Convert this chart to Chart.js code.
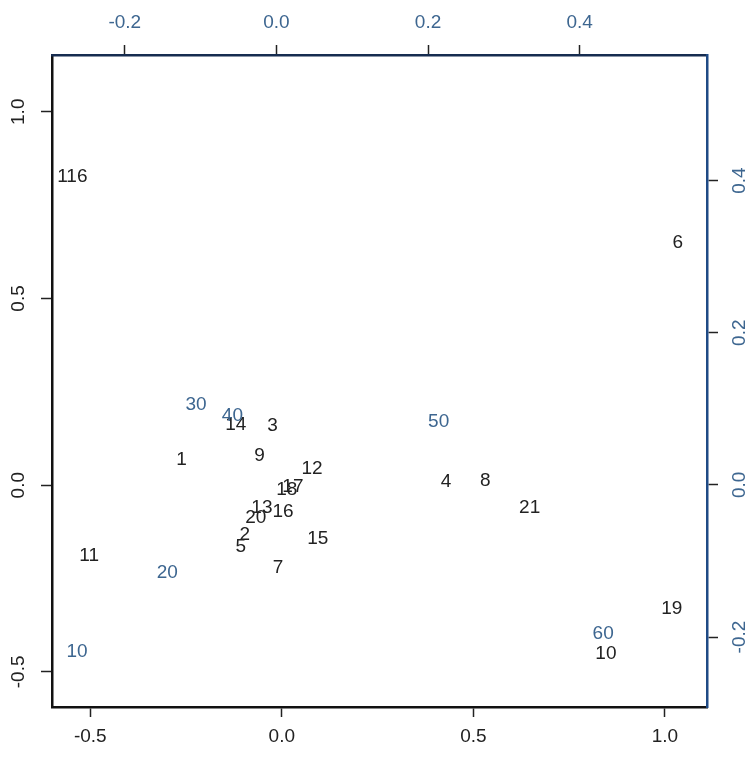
<!DOCTYPE html>
<html>
<head>
<meta charset="utf-8">
<script src="https://cdn.jsdelivr.net/npm/chart.js@4/dist/chart.umd.min.js"></script>
<style>
html, body { margin: 0; padding: 0; background: #fff; }
#wrap { width: 755px; height: 757px; }
</style>
</head>
<body>
<div id="wrap"><canvas id="chart"></canvas></div>
<script>
// observations (black labels, bottom/left axes)
const obsLabels = ['1','2','3','4','5','6','7','8','9','10','11','12','13','14','15','16','17','18','19','20','21','116'];
const obsX = [-0.262, -0.097, -0.024, 0.429, -0.107, 1.034, -0.010, 0.531, -0.058, 0.846, -0.503,
              0.079, -0.052, -0.120, 0.094, 0.003, 0.029, 0.013, 1.018, -0.068, 0.647, -0.547];
const obsY = [0.067, -0.134, 0.160, 0.008, -0.166, 0.650, -0.222, 0.011, 0.078, -0.452, -0.190,
              0.045, -0.061, 0.163, -0.144, -0.070, -0.003, -0.013, -0.332, -0.088, -0.061, 0.826];

// variables (blue labels, top/right axes)
const varLabels = ['10','20','30','40','50','60'];
const varX = [-0.263, -0.144, -0.106, -0.058, 0.214, 0.431];
const varY = [-0.220, -0.116, 0.105, 0.091, 0.083, -0.196];

// axis ranges
const xRange = [-0.60, 1.11];
const yRange = [-0.594, 1.152];
const x2Range = [-0.296, 0.568];
const y2Range = [-0.292, 0.565];

const inkBlack = '#222';
const inkBlue = '#3d6690';
const frameBlue = '#1f4a85';
const fontFam = '"Liberation Sans", Arial, sans-serif';

function fmt(v) { return (Math.abs(v) < 1e-9 ? 0 : v).toFixed(1); }

const labelPlugin = {
    id: 'pointLabels',
    afterDatasetsDraw(chart) {
        const ctx = chart.ctx;
        ctx.save();
        ctx.font = '19px ' + fontFam;
        ctx.textAlign = 'center';
        ctx.textBaseline = 'middle';
        chart.data.datasets.forEach((ds, i) => {
            const meta = chart.getDatasetMeta(i);
            ctx.fillStyle = ds.labelColor;
            meta.data.forEach((pt, j) => {
                ctx.fillText(ds.labels[j], pt.x, pt.y);
            });
        });
        ctx.restore();
    },
    afterDraw(chart) {
        // rotated tick labels for the vertical axes
        const ctx = chart.ctx;
        ctx.save();
        ctx.font = '19px ' + fontFam;
        ctx.textAlign = 'center';
        ctx.textBaseline = 'middle';
        [['y', 19, inkBlack], ['y2', 740, inkBlue]].forEach(([id, px, col]) => {
            const sc = chart.scales[id];
            ctx.fillStyle = col;
            sc.ticks.forEach(t => {
                const py = sc.getPixelForValue(t.value);
                ctx.save();
                ctx.translate(px, py);
                ctx.rotate(-Math.PI / 2);
                ctx.fillText(fmt(t.value), 0, 0);
                ctx.restore();
            });
        });
        ctx.restore();
    }
};

const ctx = document.getElementById('chart');
new Chart(ctx, {
    type: 'scatter',
    data: {
        datasets: [{
            labels: obsLabels,
            labelColor: inkBlack,
            data: obsX.map((x, i) => ({ x: x, y: obsY[i] })),
            pointRadius: 0,
            xAxisID: 'x',
            yAxisID: 'y'
        }, {
            labels: varLabels,
            labelColor: inkBlue,
            data: varX.map((x, i) => ({ x: x, y: varY[i] })),
            pointRadius: 0,
            xAxisID: 'x2',
            yAxisID: 'y2'
        }]
    },
    options: {
        responsive: true,
        maintainAspectRatio: false,
        animation: false,
        layout: { padding: 0 },
        plugins: { legend: { display: false }, tooltip: { enabled: false } },
        scales: {
            x: {
                type: 'linear', position: 'bottom',
                min: xRange[0], max: xRange[1],
                grid: { drawOnChartArea: false, tickLength: 10, tickWidth: 1.5, tickColor: inkBlack },
                border: { color: '#111', width: 2.5 },
                ticks: { stepSize: 0.5, includeBounds: false, padding: 8, color: inkBlack,
                         font: { family: fontFam, size: 19 }, callback: v => fmt(v) },
                afterFit: s => { s.height = 50; }
            },
            y: {
                type: 'linear', position: 'left',
                min: yRange[0], max: yRange[1],
                grid: { drawOnChartArea: false, tickLength: 11, tickWidth: 1.5, tickColor: inkBlack },
                border: { color: '#111', width: 2.5 },
                ticks: { stepSize: 0.5, includeBounds: false, display: false },
                afterFit: s => { s.width = 52; }
            },
            x2: {
                type: 'linear', position: 'top',
                min: x2Range[0], max: x2Range[1],
                grid: { drawOnChartArea: false, tickLength: 10, tickWidth: 1.5, tickColor: inkBlack },
                border: { color: '#162c50', width: 2.5 },
                ticks: { stepSize: 0.2, includeBounds: false, padding: 11, color: inkBlue,
                         font: { family: fontFam, size: 19 }, callback: v => fmt(v) },
                afterFit: s => { s.height = 55; }
            },
            y2: {
                type: 'linear', position: 'right',
                min: y2Range[0], max: y2Range[1],
                grid: { drawOnChartArea: false, tickLength: 11, tickWidth: 1.5, tickColor: inkBlack },
                border: { color: frameBlue, width: 2.5 },
                ticks: { stepSize: 0.2, includeBounds: false, display: false },
                afterFit: s => { s.width = 48; }
            }
        }
    },
    plugins: [labelPlugin]
});
</script>
</body>
</html>
